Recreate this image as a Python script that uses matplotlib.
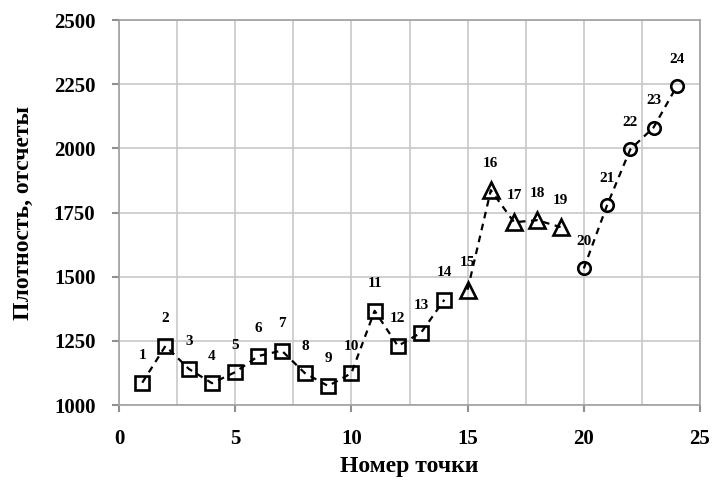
import matplotlib
matplotlib.use("Agg")
import matplotlib.pyplot as plt
from matplotlib.ticker import MultipleLocator

# point numbers and density values, three groups
x_sq = list(range(1, 15))
y_sq = [1087, 1230, 1141, 1085, 1128, 1191, 1212, 1124, 1074, 1124,
        1367, 1230, 1282, 1410]
x_tri = list(range(15, 20))
y_tri = [1449, 1837, 1712, 1720, 1693]
x_circ = list(range(20, 25))
y_circ = [1532, 1778, 1996, 2081, 2242]

x_label = "Номер точки"
y_label = "Плотность, отсчеты"

plt.rcParams['font.family'] = ['Liberation Serif', 'DejaVu Serif']
plt.rcParams['font.weight'] = 'bold'

fig = plt.figure(figsize=(7.16, 4.86), dpi=100)
ax = fig.add_axes([119 / 716, 1 - 405 / 486, 581 / 716, 385 / 486])

style = dict(color='black', linestyle=(0, (3, 2.5)), linewidth=1.6,
             markerfacecolor='none', markeredgecolor='black',
             markeredgewidth=1.9, zorder=3)
ax.plot(x_sq, y_sq, marker='s', markersize=10, **style)
ax.plot(x_tri, y_tri, marker='^', markersize=11.5, **style)
ax.plot(x_circ, y_circ, marker='o', markersize=9, **style)

for xs, ys in [(x_sq, y_sq), (x_tri, y_tri), (x_circ, y_circ)]:
    for xv, yv in zip(xs, ys):
        ax.annotate(str(xv), (xv, yv), xytext=(0, 19.5),
                    textcoords='offset points', ha='center', va='center',
                    fontsize=11, fontweight='bold')

ax.set_xlim(0, 25)
ax.set_ylim(1000, 2500)
ax.xaxis.set_major_locator(MultipleLocator(5))
ax.xaxis.set_minor_locator(MultipleLocator(2.5))
ax.yaxis.set_major_locator(MultipleLocator(250))
ax.grid(True, which='both', axis='x', color='#c8c8c8', linewidth=1.2)
ax.grid(True, which='major', axis='y', color='#c8c8c8', linewidth=1.2)
ax.set_axisbelow(True)

for s in ax.spines.values():
    s.set_color('#a0a0a0')
    s.set_linewidth(1.2)
ax.tick_params(axis='both', which='major', direction='out', length=5,
               color='#909090', width=1.5, labelsize=15)
ax.tick_params(axis='x', which='major', pad=12)
ax.tick_params(axis='y', which='major', pad=12)
ax.tick_params(axis='x', which='minor', length=0)
for lab in ax.get_xticklabels() + ax.get_yticklabels():
    lab.set_fontweight('bold')

ax.set_xlabel(x_label, fontsize=17, fontweight='bold', labelpad=5)
ax.set_ylabel(y_label, fontsize=17, fontweight='bold', labelpad=14)

fig.savefig("out.png", dpi=100)
